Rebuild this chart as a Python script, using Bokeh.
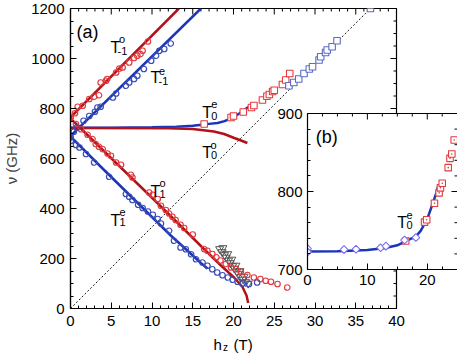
import numpy as np
from bokeh.plotting import figure
from bokeh.models import (Range1d, LinearAxis, SingleIntervalTicker, FixedTicker, Label, Column)
from bokeh.embed import file_html
from bokeh.resources import INLINE

# ---------------- data (main panel a) ----------------
line_m1o_x = [0, 13.3]
line_m1o_y = [765, 1200]
line_m1e_x = [0, 16.0]
line_m1e_y = [690, 1200]
line_0o_x = [0, 12, 15, 17.6, 18.85, 20.1, 21.0, 21.7]
line_0o_y = [722, 721, 718, 708, 698, 682, 671, 662]
line_0e_x = [0, 5, 10, 13, 15, 16.1, 17, 18.05, 18.9, 20.0, 20.8, 21.5, 21.8]
line_0e_y = [723, 723.5, 725, 727.5, 731, 735, 738.5, 742, 749.6, 765, 782, 798, 806]
line_1o_x = [0, 5, 10, 14, 16.4, 18.4, 20.1, 21.1, 21.6, 21.8]
line_1o_y = [760, 601, 443, 315, 237, 174, 123, 86, 52, 22]
line_1e_x = [0, 4, 8, 12.3, 14, 16, 16.8]
line_1e_y = [688, 558, 430, 292, 242, 182, 160]
diag_x = [0, 36.8]
diag_y = [0, 1200]

red_m1_x = [0, 0.55, 0.88, 1.5, 2.3, 2.9, 3.5, 3.7, 4.35, 4.5, 5.6, 6.0, 6.4, 7.2, 7.8, 8.2, 8.6, 8.85, 9.5]
red_m1_y = [764, 781, 807, 811, 838, 847, 853, 904, 911, 918, 944, 960, 964, 984, 1002, 1011, 1018, 1031, 1068]
blue_m1_x = [0, 0.4, 0.8, 1.6, 2.3, 3.0, 3.3, 3.7, 5.2, 5.6, 6.8, 7.2, 7.8, 8.2, 9.0, 9.9, 10.5, 10.9, 11.5, 12.3]
blue_m1_y = [687, 707, 724, 751, 770, 787, 804, 807, 844, 860, 891, 904, 918, 931, 958, 991, 1011, 1031, 1038, 1060]
red_1_x = [0, 0.67, 1.3, 2.1, 2.7, 3.1, 3.5, 3.95, 4.55, 4.96, 5.6, 6.2, 7.4, 7.6, 9.65, 10.1, 10.7, 11.1,
           11.7, 12.1, 12.5, 12.9, 13.5, 13.95, 15.0, 16.4, 16.8, 17.4, 17.9, 18.4, 19.05, 19.7, 20.3, 20.9,
           21.7, 22.5, 23.3, 23.95, 24.6, 25.4, 26.6]
red_1_y = [764, 738, 717, 695, 678, 658, 647, 638, 620, 611, 584, 575, 535, 524, 464, 455, 438, 411,
           394, 380, 367, 354, 335, 322, 296, 238, 231, 218, 205, 192, 178, 164, 158, 147,
           134, 124, 118, 111, 107, 98, 84]
blue_1_x = [0, 0.06, 0.67, 1.1, 1.9, 2.9, 4.75, 6.8, 7.2, 7.6, 8.3, 8.85, 9.5, 10.1, 10.7, 11.1, 12.1, 12.7,
            13.5, 14.15, 14.8, 15.4, 16.2, 16.8, 17.4, 18.0, 18.65, 19.3, 19.9, 20.5, 21.1, 21.9, 22.9]
blue_1_y = [684, 671, 654, 644, 618, 584, 527, 458, 447, 434, 415, 402, 388, 375, 358, 340, 311, 271,
            244, 237, 217, 197, 184, 171, 157, 144, 133, 124, 115, 107, 100, 98, 104]
tri_x = [18.3, 18.6, 18.9, 19.1, 19.4, 19.6, 19.9, 20.1, 20.4, 20.6, 20.9, 21.2, 21.5, 21.8,
         18.7, 19.3, 19.8, 20.3, 20.8, 21.3]
tri_y = [238, 226, 214, 204, 192, 182, 170, 160, 148, 138, 126, 116, 106, 100,
         242, 218, 196, 172, 150, 128]
red_sq_x = [16.4, 19.7, 20.0, 21.2, 22.2, 22.5, 23.55, 24.1, 24.4, 24.8, 25.0, 26.0, 26.4, 26.9]
red_sq_y = [738, 764, 770, 786, 804, 812, 834, 849, 856, 868, 873, 896, 914, 940]
blue_sq_x = [26.8, 27.4, 28.0, 28.65, 29.3, 29.7, 30.5, 30.7, 31.3, 31.5, 32.1, 32.7, 36.8]
blue_sq_y = [891, 904, 918, 940, 958, 967, 994, 1007, 1024, 1034, 1047, 1071, 1200]

# ---------------- data (inset b) ----------------
ins_line_x = [0, 5, 10, 13, 15, 16.1, 17, 18.05, 18.9, 20.0, 20.8, 21.5, 21.8]
ins_line_y = [723, 723.5, 725, 727.5, 731, 735, 738.5, 742, 749.6, 765, 782, 798, 806]
ins_dia_x = [0, 0, 6.1, 8.1, 12.2, 13.1, 16.2, 18.1]
ins_dia_y = [726.8, 722.5, 725.5, 726, 728, 730, 737.8, 741]
ins_sq_x = [16.4, 19.55, 19.9, 21.2, 21.98, 22.2, 22.5, 23.5, 23.8, 24.1, 24.5]
ins_sq_y = [736.5, 760.8, 763.8, 785, 798.3, 804.7, 810.6, 830.6, 842.5, 848, 866]

# tick positions
x_major = [0, 5, 10, 15, 20, 25, 30, 35, 40]
x_minor = [v for v in range(0, 41) if v % 5 != 0]
y_major = [0, 200, 400, 600, 800, 1000, 1200]
y_minor = [v for v in range(0, 1201, 50) if v % 200 != 0]
ix_major = [0, 10, 20]
ix_minor = [2.5, 5, 7.5, 12.5, 15, 17.5, 22.5]
iy_major = [700, 800, 900]
iy_minor = [720, 740, 760, 780, 820, 840, 860, 880]

FONT = "Liberation Sans"
TICK_FS = "15px"
RED_L = "#b0121a"
BLUE_L = "#1a35b8"
RED_M = "#e23a3f"
BLUE_M = "#3a4db6"
PI = np.pi
W, H = 457, 353


def no_align(fig):
    try:
        fig.frame_align = False
    except Exception:
        pass


def style_axis(ax, tick=6, minor=3, fs=TICK_FS, standoff=6):
    ax.axis_line_width = 1.2
    ax.axis_line_color = "black"
    ax.major_tick_in = tick
    ax.major_tick_out = 0
    ax.minor_tick_in = minor
    ax.minor_tick_out = 0
    ax.major_tick_line_color = "black"
    ax.minor_tick_line_color = "black"
    ax.major_label_text_font = FONT
    ax.major_label_text_color = "black"
    ax.major_label_text_font_size = fs
    ax.major_label_standoff = standoff


def mirror_ticks(fig, xs, y0, ys, x0, xs_minor, ys_minor):
    fig.ray(x=xs, y=[y0] * len(xs), length=6, length_units="screen", angle=-PI / 2,
            line_color="black", line_width=1)
    fig.ray(x=xs_minor, y=[y0] * len(xs_minor), length=3, length_units="screen", angle=-PI / 2,
            line_color="black", line_width=1)
    fig.ray(x=[x0] * len(ys), y=ys, length=6, length_units="screen", angle=PI,
            line_color="black", line_width=1)
    fig.ray(x=[x0] * len(ys_minor), y=ys_minor, length=3, length_units="screen", angle=PI,
            line_color="black", line_width=1)


def lab(fig, x, y, text, fs):
    fig.add_layout(Label(x=x, y=y, text=text, text_font=FONT, text_font_size=fs,
                         text_align="left", text_baseline="alphabetic", text_color="black"))


# ---------------- main figure (a) ----------------
p = figure(width=W, height=H, output_backend="svg", toolbar_location=None,
           x_range=Range1d(0, 40), y_range=Range1d(0, 1200),
           min_border_left=70, min_border_right=61, min_border_top=8, min_border_bottom=45,
           x_axis_location=None, y_axis_location=None)
no_align(p)
p.grid.visible = False
p.outline_line_color = "black"
p.outline_line_width = 1.2
p.background_fill_color = "white"
p.border_fill_color = "white"

ax = LinearAxis(ticker=SingleIntervalTicker(interval=5, num_minor_ticks=5))
style_axis(ax, standoff=7)
p.add_layout(ax, "below")
ay = LinearAxis(ticker=SingleIntervalTicker(interval=200, num_minor_ticks=4))
style_axis(ay, standoff=6)
ay.axis_label = "ν (GHz)"
ay.axis_label_text_font = FONT
ay.axis_label_text_font_size = "15px"
ay.axis_label_text_font_style = "normal"
ay.axis_label_standoff = 8
p.add_layout(ay, "left")
mirror_ticks(p, x_major, 1200, y_major, 40, x_minor, y_minor)

p.line(diag_x, diag_y, line_color="black", line_width=0.9, line_dash="2 2")
p.line(line_m1e_x, line_m1e_y, line_color=BLUE_L, line_width=2.5)
p.line(line_1e_x, line_1e_y, line_color=BLUE_L, line_width=2.5)
p.line(line_0e_x, line_0e_y, line_color=BLUE_L, line_width=2.5)
p.line(line_m1o_x, line_m1o_y, line_color=RED_L, line_width=2.5)
p.line(line_1o_x, line_1o_y, line_color=RED_L, line_width=2.5)
p.line(line_0o_x, line_0o_y, line_color=RED_L, line_width=2.5)

p.scatter(tri_x, tri_y, marker="inverted_triangle", size=8, fill_color=None, line_color="#555555", line_width=1)
p.scatter(red_m1_x, red_m1_y, marker="circle", size=5.5, fill_color=None, line_color=RED_M, line_width=1.2)
p.scatter(red_1_x, red_1_y, marker="circle", size=5.5, fill_color=None, line_color=RED_M, line_width=1.2)
p.scatter(blue_m1_x, blue_m1_y, marker="circle", size=5.5, fill_color=None, line_color=BLUE_M, line_width=1.2)
p.scatter(blue_1_x, blue_1_y, marker="circle", size=5.5, fill_color=None, line_color=BLUE_M, line_width=1.2)
p.scatter(red_sq_x, red_sq_y, marker="square", size=6.5, fill_color="white", line_color=RED_M, line_width=1.1)
p.scatter(blue_sq_x, blue_sq_y, marker="square", size=6.5, fill_color="white", line_color="#5a6cc4", line_width=1.1)

lab(p, 0.74, 1108, "(a)", "18px")
lab(p, 4.91, 1044, "T", "16px"); lab(p, 5.95, 1080, "o", "11px"); lab(p, 5.77, 1032, "-1", "11px")
lab(p, 9.82, 924, "T", "16px"); lab(p, 10.86, 950, "e", "11px"); lab(p, 10.80, 912, "-1", "11px")
lab(p, 16.16, 785, "T", "16px"); lab(p, 17.26, 819, "e", "11px"); lab(p, 17.26, 772, "0", "11px")
lab(p, 16.16, 625, "T", "16px"); lab(p, 17.18, 656, "o", "11px"); lab(p, 17.24, 616, "0", "11px")
lab(p, 9.82, 470, "T", "16px"); lab(p, 10.92, 501, "o", "11px"); lab(p, 10.92, 460, "1", "11px")
lab(p, 4.91, 352, "T", "16px"); lab(p, 6.01, 385, "e", "11px"); lab(p, 6.01, 345, "1", "11px")

# ---------------- inset figure (b), same canvas size, frame placed by borders ----------------
q = figure(width=W, height=H, output_backend="svg", toolbar_location=None,
           x_range=Range1d(0, 25.05), y_range=Range1d(700, 900),
           min_border_left=307, min_border_right=0, min_border_top=113, min_border_bottom=84,
           x_axis_location=None, y_axis_location=None)
no_align(q)
q.grid.visible = False
q.outline_line_color = None
q.background_fill_color = "white"
q.border_fill_color = None
bx = LinearAxis(ticker=SingleIntervalTicker(interval=10, num_minor_ticks=4))
style_axis(bx, standoff=5)
q.add_layout(bx, "below")
tx = LinearAxis(ticker=FixedTicker(ticks=[]))
tx.axis_line_width = 1.2
q.add_layout(tx, "above")
by = LinearAxis(ticker=SingleIntervalTicker(interval=100, num_minor_ticks=5))
style_axis(by, standoff=5)
q.add_layout(by, "left")
mirror_ticks(q, ix_major, 900, iy_major, 25.05, ix_minor, iy_minor)

q.line(ins_line_x, ins_line_y, line_color=BLUE_L, line_width=2.5)
q.scatter(ins_sq_x, ins_sq_y, marker="square_dot", size=6.5, fill_color="white", line_color=RED_M, line_width=1.1)
q.scatter(ins_dia_x, ins_dia_y, marker="square", angle=PI / 4, size=5.5, fill_color="white",
          line_color="#7a6cf2", line_width=1.1)
lab(q, 1.38, 869.6, "(b)", "18px")
lab(q, 15.0, 760.8, "T", "16px"); lab(q, 16.55, 769.3, "e", "11px"); lab(q, 16.55, 757.5, "0", "11px")
q.margin = (-H, 0, 0, 0)

# ---------------- transparent overlay for the x-axis label h_z (T) ----------------
r = figure(width=W, height=H, output_backend="svg", toolbar_location=None,
           x_range=Range1d(-70 / 8.15, (W - 70) / 8.15), y_range=Range1d((308 - H) * 4, 308 * 4),
           min_border_left=0, min_border_right=0, min_border_top=0, min_border_bottom=0,
           x_axis_location=None, y_axis_location=None)
no_align(r)
r.grid.visible = False
r.outline_line_color = None
r.background_fill_color = None
r.border_fill_color = None
lab(r, 17.55, -144, "h", "15px"); lab(r, 18.7, -154, "z", "10px"); lab(r, 20.0, -144, "(T)", "15px")
r.margin = (-H, 0, 0, 0)

layout = Column(children=[p, q, r], spacing=0)

open("out.html", "w").write(file_html(layout, INLINE))
